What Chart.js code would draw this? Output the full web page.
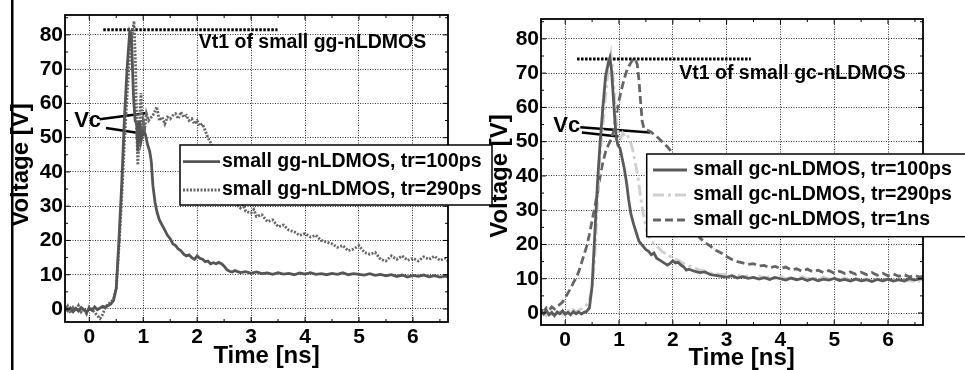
<!DOCTYPE html>
<html>
<head>
<meta charset="utf-8">
<script src="https://cdn.jsdelivr.net/npm/chart.js@4.4.1/dist/chart.umd.min.js"></script>
<style>
  body { margin: 0; background: #fff; }
  #wrap { position: relative; width: 965px; height: 370px; overflow: hidden; background: #fff; }
  #left { position: absolute; left: 0; top: 0; z-index: 2; }
  #right { position: absolute; left: 480px; top: 0; z-index: 1; }
</style>
</head>
<body>
<div id="wrap">
  <canvas id="right" width="485" height="370"></canvas>
  <canvas id="left" width="500" height="370"></canvas>
</div>
<script>
// tick labels
const xTicks = [0, 1, 2, 3, 4, 5, 6];
const yTicks = [0, 10, 20, 30, 40, 50, 60, 70, 80];

// left panel: small gg-nLDMOS
const gg100T = [-0.45,-0.4,-0.35,-0.3,-0.25,-0.2,-0.15,-0.1,-0.05,0,0.05,0.1,0.15,0.2,0.25,0.3,0.35,0.4,0.45,0.5,0.55,0.6,0.65,0.7,0.75,0.78,0.82,0.85,0.88,0.9,0.93,0.96,1.0,1.04,1.08,1.12,1.15,1.18,1.22,1.26,1.3,1.35,1.4,1.45,1.5,1.55,1.6,1.65,1.7,1.75,1.8,1.85,1.9,1.95,2.0,2.05,2.1,2.15,2.2,2.25,2.3,2.35,2.4,2.45,2.5,2.55,2.6,2.65,2.7,2.8,2.9,3.0,3.1,3.2,3.3,3.4,3.5,3.6,3.7,3.8,3.9,4.0,4.1,4.2,4.3,4.4,4.5,4.6,4.7,4.8,4.9,5.0,5.1,5.2,5.3,5.4,5.5,5.6,5.7,5.8,5.9,6.0,6.1,6.2,6.3,6.4,6.5,6.6,6.65];
const gg100V = [0.5,-0.5,0.3,-0.8,0.2,-0.6,0.4,-0.3,-1.0,0.2,-0.4,0.6,-0.2,0.3,0.8,0.5,1.0,1.5,2.5,6,20,36,55,70,81,80,62,55,54,46,55,49,52,51,48,46,43,36,31,28,26,24.5,23,21.5,20.5,19,18.5,17.5,17,16,15.5,15.8,15,14.5,15.5,14.8,14.5,13.8,14,13.2,13.5,13.2,13.6,13.2,12.5,11.5,11,10.8,11.2,10.6,10.9,10.4,10.8,10.3,10.5,10.1,10.6,10.2,10.4,10.0,10.5,10.2,10.6,10.1,10.3,10.0,10.4,10.1,10.6,10.0,10.3,10.1,9.9,10.3,9.8,10.1,9.7,10.0,9.5,9.9,9.3,9.8,9.5,9.9,9.4,9.7,9.3,9.6,9.4];

const gg290T = [-0.45,-0.4,-0.35,-0.3,-0.25,-0.2,-0.15,-0.1,-0.05,0,0.05,0.1,0.15,0.2,0.25,0.3,0.35,0.4,0.45,0.5,0.55,0.6,0.65,0.7,0.75,0.8,0.83,0.86,0.88,0.9,0.92,0.94,0.96,0.98,1.0,1.03,1.06,1.1,1.15,1.2,1.25,1.3,1.35,1.4,1.45,1.5,1.55,1.6,1.65,1.7,1.75,1.8,1.85,1.9,1.95,2.0,2.05,2.1,2.15,2.2,2.25,2.3,2.4,2.5,2.6,2.7,2.8,2.85,2.9,3.0,3.05,3.1,3.2,3.3,3.4,3.5,3.6,3.7,3.8,3.9,4.0,4.1,4.2,4.3,4.4,4.5,4.6,4.7,4.8,4.9,5.0,5.1,5.2,5.3,5.4,5.5,5.6,5.7,5.8,5.9,6.0,6.1,6.2,6.3,6.4,6.5,6.6,6.65];
const gg290V = [-0.5,0.8,-1.2,0.4,-0.6,1.0,-0.8,0.3,-1.4,0.6,-0.2,-1.0,-2.0,-2.8,-1.5,0.5,1.5,2,3,6,18,32,48,62,74,81,84,70,52,42,48,58,63,52,55,53,57,55,56,57,59,55,56,54,56,55.5,56.5,57,55.5,57.5,56,56.5,55,55.5,54,55,53.5,54,52,50,48.5,47,42,37,33,31,29.5,30.5,28.5,28,29,27,27.5,25.5,26,24,24.5,23,22.5,21.5,22,21,21.5,20,19.5,19,18,18.5,17,17.5,18.5,16.5,16,16.5,14.5,14,15.5,14.5,15.5,14.2,14.8,14,15.2,14.5,15.4,14.2,14.8,14];

// right panel: small gc-nLDMOS
const gc100T = [-0.45,-0.4,-0.35,-0.3,-0.25,-0.2,-0.15,-0.1,-0.05,0,0.05,0.1,0.15,0.2,0.25,0.3,0.35,0.4,0.45,0.5,0.55,0.6,0.65,0.7,0.75,0.8,0.83,0.86,0.89,0.92,0.95,0.98,1.02,1.06,1.1,1.14,1.18,1.22,1.27,1.32,1.37,1.42,1.5,1.55,1.6,1.65,1.7,1.75,1.8,1.85,1.9,1.95,2.0,2.05,2.1,2.15,2.2,2.25,2.3,2.4,2.5,2.6,2.7,2.8,2.9,3.0,3.1,3.2,3.3,3.4,3.5,3.6,3.7,3.8,3.9,4.0,4.1,4.2,4.3,4.4,4.5,4.6,4.7,4.8,4.9,5.0,5.1,5.2,5.3,5.4,5.5,5.6,5.7,5.8,5.9,6.0,6.1,6.2,6.3,6.4,6.5,6.6,6.65];
const gc100V = [0.5,-0.3,0.8,-0.5,0.2,-0.8,0.3,-0.2,0.6,-0.4,0.2,-0.5,0.4,-0.2,0.3,-0.3,0.2,0.5,1.5,8,23,38,50,60,69,73,74.5,71,64,57,51,49,48,45,42,38,33,29,26,23.5,21,20,18.5,18,17,17.5,16,15.5,15,14.5,14,14.5,15.2,14.6,14.8,14,13.5,12.5,12.8,12.2,11.8,12,11.2,11,10.7,10.5,10.9,10.2,10.6,10.1,10.4,9.9,10.3,9.8,10.4,10.0,9.6,10.2,9.7,10.1,9.5,10.0,9.4,9.9,9.6,10.1,9.5,9.8,9.3,9.9,9.4,9.7,9.2,9.8,9.4,9.9,9.3,9.7,9.4,10.0,9.6,10.1,9.8];

const gc290T = [-0.45,-0.4,-0.35,-0.3,-0.25,-0.2,-0.15,-0.1,-0.05,0,0.05,0.1,0.15,0.2,0.25,0.3,0.35,0.4,0.45,0.5,0.55,0.6,0.65,0.7,0.75,0.8,0.85,0.88,0.91,0.95,0.99,1.03,1.07,1.11,1.15,1.2,1.25,1.3,1.35,1.4,1.45,1.5,1.55,1.6,1.7,1.8,1.9,2.0,2.1,2.2,2.3,2.4,2.5,2.6,2.7,2.8,2.9,3.0,3.1,3.2,3.3,3.4,3.5,3.6,3.7,3.8,3.9,4.0,4.1,4.2,4.3,4.4,4.5,4.6,4.7,4.8,4.9,5.0,5.1,5.2,5.3,5.4,5.5,5.6,5.7,5.8,5.9,6.0,6.1,6.2,6.3,6.4,6.5,6.6,6.65];
const gc290V = [-0.5,0.3,-0.8,0.2,-0.4,0.5,-0.2,0.3,-0.3,0.5,0.8,0.2,1.0,0.4,0.8,1.2,1.5,2.5,4,7,16,32,46,55,63,71,75.5,71,65,56,52,51,52.5,51.5,52,50.5,48,44,40,34,29,25,22.5,21,19.5,18,17,16,15.3,14.5,13.8,13.2,12.5,12.2,11.7,11.5,11.2,11.4,10.8,11.1,10.5,10.9,10.3,10.8,10.2,10.6,10.1,10.7,10.0,10.5,9.9,10.6,10.0,10.4,9.8,10.5,9.9,10.3,9.7,10.2,9.6,10.1,9.5,10.0,9.4,9.9,9.3,9.8,9.2,9.7,9.1,9.6,9.0,9.4,8.9];

const gc1nsT = [-0.45,-0.4,-0.35,-0.3,-0.25,-0.2,-0.15,-0.1,-0.05,0,0.05,0.1,0.15,0.2,0.25,0.3,0.35,0.4,0.45,0.5,0.55,0.6,0.65,0.7,0.75,0.8,0.85,0.9,0.95,1.0,1.05,1.1,1.15,1.2,1.25,1.3,1.34,1.37,1.4,1.43,1.46,1.5,1.55,1.6,1.65,1.7,1.75,1.8,1.85,1.9,1.95,2.0,2.05,2.1,2.15,2.2,2.25,2.3,2.4,2.5,2.6,2.7,2.8,2.9,3.0,3.1,3.2,3.3,3.4,3.5,3.6,3.7,3.8,3.9,4.0,4.1,4.2,4.3,4.4,4.5,4.6,4.7,4.8,4.9,5.0,5.1,5.2,5.3,5.4,5.5,5.6,5.7,5.8,5.9,6.0,6.1,6.2,6.3,6.4,6.5,6.6,6.65];
const gc1nsV = [1.0,0.5,1.5,0.8,1.8,1.2,2.0,2.5,3.2,4.5,5.8,7.2,8.8,10.2,12,14.5,17,19.5,23,27,31,35,40,44,47,49,50.5,53,58,62,65.5,68.5,71,72.5,73.8,74.2,72.5,68,62,56,54,53.5,53.2,52.8,52,51.5,50.8,50,49.2,48.5,47.5,45.5,43,40,37,34,31,28,25,22,20.5,19.5,18.3,17.5,16.5,15.6,15,14.6,14.2,14.4,13.7,13.9,13.2,13.6,13.0,13.4,12.6,12.9,12.2,12.8,12.0,12.5,11.8,12.4,11.6,12.2,11.5,12.0,11.3,11.9,11.2,11.8,11.0,11.6,10.9,11.4,10.7,11.2,10.5,11.0,10.4,10.8];

// annotations (data units)
const ggVt1T = [0.26, 3.49];
const ggVt1V = [81.5, 81.5];
const gcVt1T = [0.22, 3.45];
const gcVt1V = [74.1, 74.1];
const ggVcT = [[0.19, 1.04], [0.31, 1.04]];
const ggVcV = [[55.4, 57.1], [52.8, 51.1]];
const gcVcT = [[0.28, 1.58], [0.31, 0.99]];
const gcVcV = [[54.2, 52.7], [52.7, 51.5]];

const FONT = '"Liberation Sans", Arial, sans-serif';

function pts(t, v) {
  return t.map((x, i) => ({ x: x, y: v[i] }));
}

function series(label, t, v, color, dash) {
  return { label: label, data: pts(t, v), borderColor: color, borderWidth: 2.8,
           borderDash: dash, pointRadius: 0, tension: 0, fill: false };
}

function annot(t, v, dash, width) {
  return { label: '', data: pts(t, v), borderColor: '#000', borderWidth: width,
           borderDash: dash, pointRadius: 0, tension: 0, fill: false };
}

function line(ctx, x1, y1, x2, y2) {
  ctx.beginPath(); ctx.moveTo(x1, y1); ctx.lineTo(x2, y2); ctx.stroke();
}

// frame, inward tick marks, text and legend
function decor(o) {
  return {
    id: 'decor',
    afterDatasetsDraw(chart) {
      const ctx = chart.ctx, a = chart.chartArea;
      const x = chart.scales.x, y = chart.scales.y;
      ctx.save();
      ctx.strokeStyle = '#000';
      ctx.lineWidth = 1;
      for (let v = 0; v <= 6.5; v += 0.5) {
        const px = x.getPixelForValue(v), len = v % 1 === 0 ? 5 : 3;
        line(ctx, px, a.bottom, px, a.bottom - len);
        line(ctx, px, a.top, px, a.top + len);
      }
      for (let v = 0; v <= 85; v += 5) {
        const py = y.getPixelForValue(v), len = v % 10 === 0 ? 5 : 3;
        line(ctx, a.left, py, a.left + len, py);
        line(ctx, a.right, py, a.right - len, py);
      }
      ctx.lineWidth = 1.8;
      ctx.strokeRect(a.left, a.top, a.right - a.left, a.bottom - a.top);

      ctx.fillStyle = '#000';
      ctx.font = 'bold 19.5px ' + FONT;
      ctx.textAlign = 'left';
      ctx.textBaseline = 'middle';
      ctx.fillText(o.vt1Text, x.getPixelForValue(o.vt1Pos[0]), y.getPixelForValue(o.vt1Pos[1]));
      ctx.font = 'bold 22px ' + FONT;
      ctx.fillText('Vc', x.getPixelForValue(o.vcPos[0]), y.getPixelForValue(o.vcPos[1]));

      // legend box
      const L = o.legend;
      ctx.fillStyle = '#fff';
      ctx.fillRect(L.x, L.y, L.w, L.h);
      ctx.lineWidth = 1.5;
      ctx.strokeRect(L.x, L.y, L.w, L.h);
      ctx.font = 'bold 19.5px ' + FONT;
      ctx.fillStyle = '#000';
      L.rows.forEach((ry, i) => {
        const ds = chart.data.datasets[i];
        ctx.save();
        ctx.strokeStyle = ds.borderColor;
        ctx.lineWidth = 2.8;
        ctx.setLineDash(ds.borderDash || []);
        line(ctx, L.sx1, ry, L.sx2, ry);
        ctx.restore();
        ctx.fillText(ds.label, L.tx, ry);
      });

      // axis titles
      ctx.font = 'bold 24px ' + FONT;
      ctx.textAlign = 'center';
      ctx.textBaseline = 'alphabetic';
      ctx.fillText('Time [ns]', o.xTitle[0], o.xTitle[1]);
      ctx.save();
      ctx.translate(o.yTitle[0], o.yTitle[1]);
      ctx.rotate(-Math.PI / 2);
      ctx.textBaseline = 'middle';
      ctx.fillText('Voltage [V]', 0, 0);
      ctx.restore();
      if (o.edge) {
        ctx.fillRect(11, 0, 2.5, 370);
      }
      ctx.restore();
    }
  };
}

function makeChart(id, datasets, o) {
  const tickFont = { family: FONT, size: 21, weight: 'bold' };
  return new Chart(document.getElementById(id), {
    type: 'line',
    data: { datasets: datasets },
    options: {
      responsive: false,
      animation: false,
      layout: { padding: { left: 0, right: o.padRight, top: o.padTop, bottom: 0 } },
      plugins: { legend: { display: false }, tooltip: { enabled: false } },
      scales: {
        x: {
          type: 'linear', min: -0.45, max: 6.65,
          afterBuildTicks: s => { s.ticks = xTicks.map(v => ({ value: v })); },
          afterFit: s => { s.height = o.xAxisH; },
          ticks: { color: '#000', font: tickFont, padding: 3, maxRotation: 0 },
          grid: { color: '#333', lineWidth: 1, drawTicks: false },
          border: { display: false, dash: [1, 1.5] }
        },
        y: {
          type: 'linear', min: o.yMin, max: 85.8,
          afterBuildTicks: s => { s.ticks = yTicks.map(v => ({ value: v })); },
          afterFit: s => { s.width = o.yAxisW; },
          ticks: { color: '#000', font: tickFont, padding: 2 },
          grid: { color: '#333', lineWidth: 1, drawTicks: false },
          border: { display: false, dash: [1, 1.5] }
        }
      }
    },
    plugins: [decor(o)]
  });
}

makeChart('right', [
  series('small gc-nLDMOS, tr=100ps', gc100T, gc100V, '#5a5a5a', []),
  series('small gc-nLDMOS, tr=290ps', gc290T, gc290V, '#cfcfcf', [11, 4, 3, 4]),
  series('small gc-nLDMOS, tr=1ns', gc1nsT, gc1nsV, '#656565', [8, 4]),
  annot(gcVt1T, gcVt1V, [2.5, 1.5], 3),
  annot(gcVcT[0], gcVcV[0], [], 2.5),
  annot(gcVcT[1], gcVcV[1], [], 2.5)
], {
  padRight: 42, padTop: 19, xAxisH: 45, yAxisW: 61, yMin: -3.5,
  vt1Text: 'Vt1 of small gc-nLDMOS', vt1Pos: [2.12, 70],
  vcPos: [-0.22, 54.6],
  legend: { x: 166.7, y: 154, w: 320, h: 82.7, rows: [170, 195, 220], sx1: 173, sx2: 207, tx: 213.3 },
  xTitle: [261.7, 365], yTitle: [20, 176], edge: false
});

makeChart('left', [
  series('small gg-nLDMOS, tr=100ps', gg100T, gg100V, '#555555', []),
  series('small gg-nLDMOS, tr=290ps', gg290T, gg290V, '#666666', [2, 1.5]),
  annot(ggVt1T, ggVt1V, [2.5, 1.5], 3),
  annot(ggVcT[0], ggVcV[0], [], 2.5),
  annot(ggVcT[1], ggVcV[1], [], 2.5)
], {
  padRight: 52, padTop: 15, xAxisH: 48, yAxisW: 65, yMin: -3.8,
  vt1Text: 'Vt1 of small gg-nLDMOS', vt1Pos: [2.03, 77.7],
  vcPos: [-0.28, 54.9],
  legend: { x: 180, y: 145, w: 312, h: 60, rows: [161.7, 190], sx1: 183, sx2: 220, tx: 222 },
  xTitle: [266.5, 363], yTitle: [21, 165], edge: true
});
</script>
</body>
</html>
